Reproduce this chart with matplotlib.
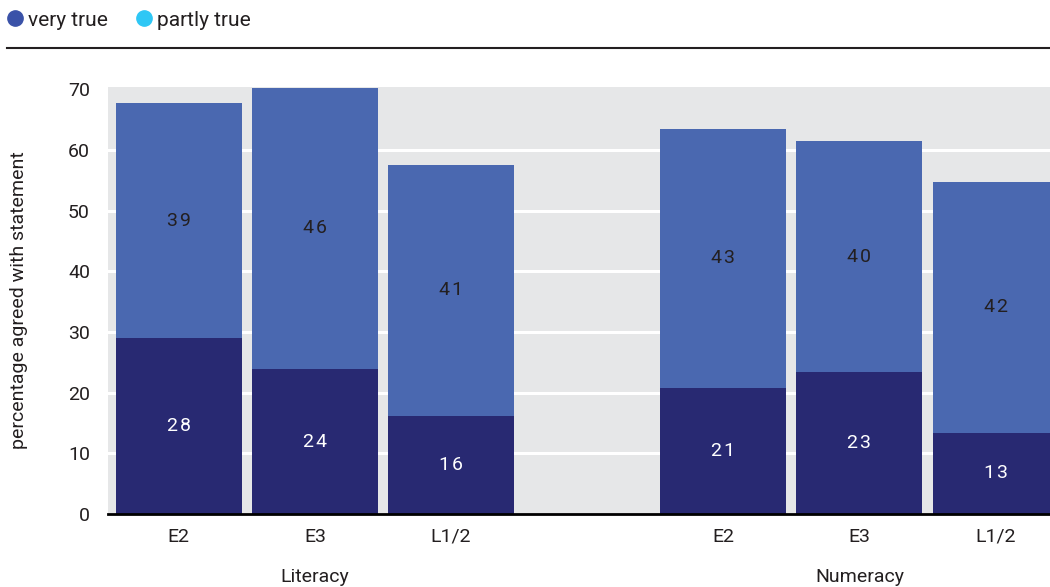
import numpy as np
import matplotlib
matplotlib.use('Agg')
import matplotlib.pyplot as plt
from matplotlib.lines import Line2D

plt.rcParams['font.family'] = ['Roboto', 'DejaVu Sans']

groups = ['Literacy', 'Numeracy']
levels = ['E2', 'E3', 'L1/2']
# bar heights
very_true = [29.0, 23.9, 16.2, 20.8, 23.4, 13.4]
partly_true = [38.7, 46.4, 41.3, 42.7, 38.1, 41.3]
# printed labels
very_lbl = [28, 24, 16, 21, 23, 13]
partly_lbl = [39, 46, 41, 43, 40, 42]

dark = '#282972'
mid = '#4a68b0'
txt = '#231f20'

# positions: three bars per group, one empty slot between groups
x = np.concatenate([np.arange(3), np.arange(3) + 4])

fig = plt.figure(figsize=(10.5, 5.87), dpi=100)
ax = fig.add_axes([108 / 1050, 73 / 587, 1 - 108 / 1050, 427 / 587])
ax.set_facecolor('#e6e7e8')

ax.bar(x, very_true, width=0.925, color=dark, zorder=3)
ax.bar(x, partly_true, width=0.925, bottom=very_true, color=mid, zorder=3)

for xi, v, p, vl, pl in zip(x, very_true, partly_true, very_lbl, partly_lbl):
    ax.text(xi, v / 2, '\u200a'.join(str(vl)), color='white', ha='center', va='center',
            fontsize=14, zorder=4)
    ax.text(xi, v + p / 2, '\u200a'.join(str(pl)), color=txt, ha='center', va='center',
            fontsize=14, zorder=4)

ax.set_xlim(-0.52, 6.40)
ax.set_ylim(0, 70.4)
ax.set_yticks(np.arange(0, 71, 10))
for yv in np.arange(10, 61, 10):
    ax.axhline(yv, color='white', linewidth=2.2, zorder=1)
ax.set_xticks(x)
ax.set_xticklabels(levels * 2)
ax.tick_params(axis='both', length=0, labelsize=14, colors=txt)
ax.tick_params(axis='x', pad=10)
ax.tick_params(axis='y', pad=13)
for s in ['top', 'right', 'left']:
    ax.spines[s].set_visible(False)
ax.spines['bottom'].set_linewidth(2)
ax.spines['bottom'].set_color('black')
ax.spines['bottom'].set_zorder(5)

ax.set_ylabel('percentage agreed with statement', fontsize=14, color=txt, labelpad=29)

for gi, g in enumerate(groups):
    ax.text(x[gi * 3 + 1], -0.148, g, transform=ax.get_xaxis_transform(),
            ha='center', va='center', fontsize=14, color=txt)

handles = [Line2D([], [], marker='o', linestyle='', markersize=11, color='#3a52a8'),
           Line2D([], [], marker='o', linestyle='', markersize=11, color='#2ec7f5')]
fig.legend(handles, ['very true', 'partly true'], loc='center left',
           bbox_to_anchor=(5 / 1050, 1 - 20 / 587), ncol=2, frameon=False,
           fontsize=15, handletextpad=0.1, columnspacing=1.25, handlelength=1.0,
           borderaxespad=0, borderpad=0, labelcolor=txt)
fig.add_artist(Line2D([7 / 1050, 1], [1 - 48 / 587] * 2, color='#231f20', linewidth=1.5))

fig.savefig('out.png', dpi=100)
